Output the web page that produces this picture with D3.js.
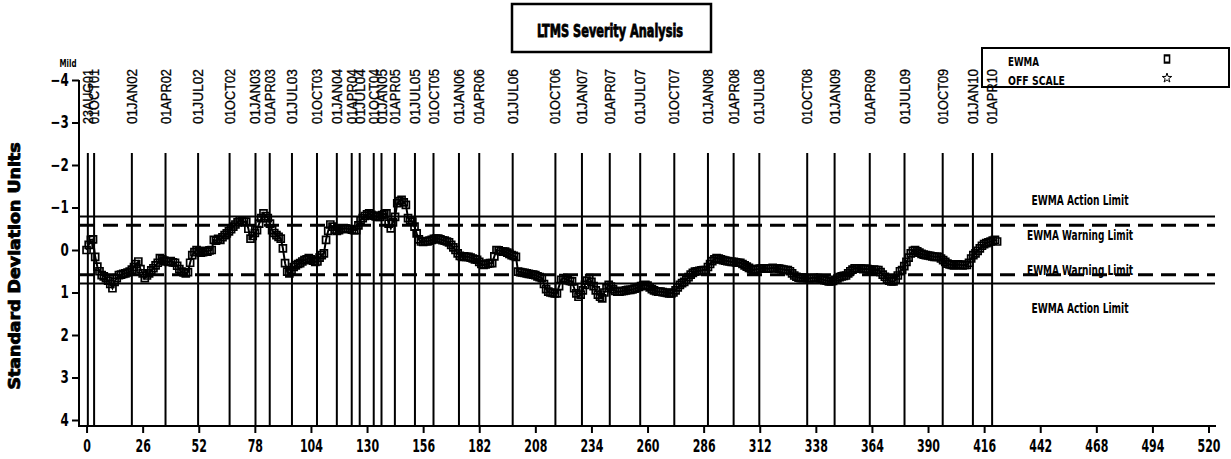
<!DOCTYPE html>
<html>
<head>
<meta charset="utf-8">
<script src="https://cdn.jsdelivr.net/npm/d3@7"></script>
<style>
  body { margin: 0; background: #fff; }
  svg { display: block; }
  .narrow { font-family: "DejaVu Sans Condensed", "Liberation Sans Narrow", sans-serif; font-weight: bold; }
  .plain { font-family: "Liberation Sans", Arial, sans-serif; }
</style>
</head>
<body>
<div id="chart"></div>
<script>
// date marks drawn as vertical reference lines (position = test sequence number)
var dateLabels = ["23AUG01","01OCT01","01JAN02","01APR02","01JUL02","01OCT02","01JAN03","01APR03",
  "01JUL03","01OCT03","01JAN04","01APR04","01JUL04","01OCT04","01JAN05","01APR05","01JUL05",
  "01OCT05","01JAN06","01APR06","01JUL06","01OCT06","01JAN07","01APR07","01JUL07","01OCT07",
  "01JAN08","01APR08","01JUL08","01OCT08","01JAN09","01APR09","01JUL09","01OCT09","01JAN10","01APR10"]
var datePos = [0.6, 3.5, 21.0, 36.6, 51.7, 66.3, 78.3, 84.9, 95.2, 106.8, 116.0, 122.9, 126.6, 133.1,
  136.7, 142.9, 152.2, 160.8, 172.6, 182.0, 197.5, 217.3, 229.6, 242.5, 256.6, 272.4, 288.0, 299.9,
  311.8, 334.0, 346.7, 363.0, 379.1, 396.8, 410.8, 419.7]

// EWMA value for each test, in standard deviation units
var ewma = [
  0.00,-0.12,-0.24,-0.25,0.16,0.39,0.50,0.59,0.62,0.66,
  0.72,0.80,0.90,0.75,0.66,0.59,0.58,0.56,0.55,0.53,
  0.51,0.46,0.40,0.33,0.27,0.45,0.55,0.66,0.60,0.55,
  0.48,0.43,0.36,0.30,0.19,0.22,0.25,0.27,0.28,0.26,
  0.29,0.30,0.37,0.45,0.51,0.53,0.55,0.52,0.30,0.12,
  0.05,0.00,0.03,0.06,0.05,0.02,0.04,0.01,0.00,-0.24,
  -0.22,-0.26,-0.24,-0.30,-0.35,-0.39,-0.44,-0.49,-0.55,-0.60,
  -0.65,-0.70,-0.68,-0.66,-0.67,-0.50,-0.27,-0.33,-0.40,-0.47,
  -0.62,-0.75,-0.86,-0.80,-0.75,-0.62,-0.47,-0.40,-0.35,-0.31,
  -0.27,-0.04,0.31,0.51,0.55,0.48,0.40,0.36,0.33,0.31,
  0.27,0.24,0.22,0.19,0.22,0.25,0.28,0.27,0.18,0.12,
  0.08,-0.24,-0.45,-0.60,-0.55,-0.48,-0.45,-0.47,-0.49,-0.50,
  -0.51,-0.50,-0.49,-0.48,-0.47,-0.47,-0.58,-0.70,-0.75,-0.80,
  -0.84,-0.86,-0.83,-0.81,-0.79,-0.78,-0.78,-0.82,-0.84,-0.86,
  -0.62,-0.51,-0.65,-0.78,-1.10,-1.15,-1.18,-1.12,-1.06,-0.75,
  -0.70,-0.67,-0.55,-0.39,-0.25,-0.20,-0.19,-0.21,-0.20,-0.22,
  -0.24,-0.26,-0.27,-0.27,-0.25,-0.23,-0.22,-0.20,-0.18,-0.12,
  -0.06,0.00,0.08,0.14,0.16,0.15,0.16,0.16,0.18,0.20,
  0.22,0.23,0.28,0.33,0.35,0.34,0.32,0.31,0.31,0.15,
  0.00,0.01,0.03,0.04,0.04,0.06,0.09,0.12,0.14,0.16,
  0.51,0.52,0.53,0.54,0.55,0.56,0.57,0.58,0.59,0.62,
  0.64,0.66,0.80,0.92,0.98,1.00,1.01,1.02,1.02,0.85,
  0.70,0.66,0.68,0.71,0.73,0.74,0.90,1.02,1.10,1.05,
  0.95,0.82,0.72,0.66,0.75,0.85,0.95,1.05,1.10,1.14,
  1.00,0.90,0.82,0.86,0.92,0.96,0.98,0.98,0.97,0.96,
  0.95,0.94,0.94,0.93,0.91,0.89,0.87,0.85,0.83,0.82,
  0.84,0.88,0.92,0.95,0.97,0.98,0.98,0.99,1.00,1.01,
  1.02,1.02,1.00,0.95,0.88,0.82,0.78,0.75,0.70,0.64,
  0.58,0.54,0.51,0.50,0.49,0.48,0.47,0.47,0.40,0.33,
  0.26,0.22,0.19,0.20,0.22,0.24,0.25,0.26,0.27,0.28,
  0.28,0.29,0.30,0.30,0.33,0.36,0.39,0.42,0.45,0.47,
  0.46,0.45,0.44,0.43,0.43,0.43,0.44,0.43,0.42,0.43,
  0.43,0.44,0.45,0.46,0.47,0.47,0.50,0.55,0.60,0.63,
  0.65,0.66,0.66,0.65,0.66,0.67,0.66,0.65,0.66,0.66,
  0.67,0.69,0.71,0.72,0.74,0.74,0.73,0.70,0.67,0.64,
  0.62,0.61,0.60,0.55,0.50,0.46,0.43,0.43,0.43,0.44,
  0.45,0.44,0.45,0.46,0.47,0.46,0.47,0.47,0.52,0.58,
  0.63,0.68,0.72,0.74,0.74,0.70,0.60,0.50,0.47,0.38,
  0.28,0.18,0.08,0.02,0.00,0.03,0.06,0.09,0.11,0.12,
  0.13,0.14,0.15,0.16,0.16,0.16,0.20,0.24,0.28,0.32,
  0.34,0.35,0.36,0.35,0.34,0.35,0.36,0.35,0.35,0.30,
  0.20,0.12,0.08,0.02,-0.04,-0.10,-0.14,-0.16,-0.18,-0.20,
  -0.22,-0.24,-0.20]

var yTicks = [-4, -3, -2, -1, 0, 1, 2, 3, 4]
var xTicks = [0, 26, 52, 78, 104, 130, 156, 182, 208, 234, 260, 286, 312, 338, 364, 390, 416, 442, 468, 494, 520]

// control limits
var limitNames = ["EWMA Action Limit", "EWMA Warning Limit", "EWMA Warning Limit", "EWMA Action Limit"]
var limitValues = [-0.79, -0.58, 0.58, 0.79]
var limitDashed = [false, true, true, false]

var legendNames = ["EWMA", "OFF SCALE"]

var width = 1231,
    height = 459

var svg = d3.select("#chart")
  .append("svg")
    .attr("width", width)
    .attr("height", height)

var x = d3.scaleLinear().domain([-3.5, 523]).range([79, 1215])
var y = d3.scaleLinear().domain([-4, 4]).range([80, 420])
var axisY = 426

// squeezed text, the SAS fonts are much narrower than anything installed
function narrow(g, tx, ty, size, len, str, anchor) {
  return g.append("text")
    .attr("class", "narrow")
    .attr("x", tx).attr("y", ty)
    .attr("text-anchor", anchor || "middle")
    .attr("textLength", len)
    .attr("lengthAdjust", "spacingAndGlyphs")
    .style("font-size", size + "px")
    .text(str)
}

// title box
svg.append("rect")
  .attr("x", 512).attr("y", 4).attr("width", 199).attr("height", 48)
  .attr("fill", "none").attr("stroke", "black").attr("stroke-width", 2.5)
narrow(svg, 610, 37, 17, 146, "LTMS Severity Analysis")
  .attr("stroke", "black").attr("stroke-width", 0.8)

// vertical date lines
svg.selectAll(".dline")
  .data(datePos)
  .enter()
  .append("line")
    .attr("x1", function(d) { return x(d) })
    .attr("x2", function(d) { return x(d) })
    .attr("y1", 153)
    .attr("y2", axisY)
    .attr("stroke", "black")
    .attr("stroke-width", 2)

svg.selectAll(".dlabel")
  .data(datePos)
  .enter()
  .append("text")
    .attr("class", "plain")
    .attr("transform", function(d) { return "translate(" + (x(d) + 5) + ",124) rotate(-90)" })
    .attr("textLength", 55)
    .attr("lengthAdjust", "spacingAndGlyphs")
    .attr("stroke", "black")
    .attr("stroke-width", 0.3)
    .style("font-size", "14px")
    .text(function(d, i) { return dateLabels[i] })

// limit lines
svg.selectAll(".limit")
  .data(limitValues)
  .enter()
  .append("line")
    .attr("x1", 80)
    .attr("x2", 1215)
    .attr("y1", function(d) { return y(d) })
    .attr("y2", function(d) { return y(d) })
    .attr("stroke", "black")
    .attr("stroke-width", function(d, i) { return limitDashed[i] ? 3 : 2 })
    .attr("stroke-dasharray", function(d, i) { return limitDashed[i] ? "15,8" : null })

var limitLabelY = [205, 240, 275, 313]
limitNames.forEach(function(n, i) {
  narrow(svg, 1080, limitLabelY[i], 13.5, limitDashed[i] ? 106 : 97, n)
})

// axes
svg.append("line")
  .attr("x1", 79).attr("x2", 79).attr("y1", y(-4)).attr("y2", axisY)
  .attr("stroke", "black").attr("stroke-width", 2)
svg.append("line")
  .attr("x1", 78).attr("x2", 1216).attr("y1", axisY).attr("y2", axisY)
  .attr("stroke", "black").attr("stroke-width", 2)

var yMinor = d3.range(-4, 4.01, 0.2)
var gy = svg.append("g").attr("transform", "translate(79,0)")
gy.call(d3.axisLeft(y).tickValues(yMinor).tickSize(4).tickFormat(""))
gy.call(d3.axisLeft(y).tickValues(yTicks).tickSize(7).tickPadding(3).tickFormat(d3.format("d")))
gy.selectAll(".domain").remove()
gy.selectAll("line").attr("stroke-width", 2)
gy.selectAll("text")
  .attr("class", "narrow")
  .attr("transform", "scale(0.78,1)")
  .attr("x", -13)
  .style("font-size", "17px")

var xMinor = d3.range(0, 521, 6.5)
var gx = svg.append("g").attr("transform", "translate(0," + axisY + ")")
gx.call(d3.axisBottom(x).tickValues(xMinor).tickSize(4).tickFormat(""))
gx.call(d3.axisBottom(x).tickValues(xTicks).tickSize(7).tickPadding(7).tickFormat(d3.format("d")))
gx.selectAll(".domain").remove()
gx.selectAll("line").attr("stroke-width", 2)
gx.selectAll("text")
  .attr("class", "narrow")
  .attr("transform", "scale(0.72,1)")
  .style("font-size", "17px")

narrow(svg, 68, 67, 10, 17, "Mild")

svg.append("text")
  .attr("class", "narrow")
  .attr("transform", "translate(20,266) rotate(-90)")
  .attr("text-anchor", "middle")
  .attr("textLength", 247)
  .attr("lengthAdjust", "spacingAndGlyphs")
  .attr("stroke", "black")
  .attr("stroke-width", 0.8)
  .style("font-size", "15px")
  .text("Standard Deviation Units")

// EWMA series
var line = d3.line()
  .x(function(d, i) { return x(i) })
  .y(function(d) { return y(d) })

svg.append("path")
  .datum(ewma)
  .attr("d", line)
  .attr("fill", "none")
  .attr("stroke", "black")
  .attr("stroke-width", 2)

var square = d3.symbol().type(d3.symbolSquare).size(49)
svg.selectAll(".pt")
  .data(ewma)
  .enter()
  .append("path")
    .attr("d", square)
    .attr("transform", function(d, i) { return "translate(" + x(i) + "," + y(d) + ")" })
    .attr("fill", "none")
    .attr("stroke", "black")
    .attr("stroke-width", 1.7)

// legend
svg.append("rect")
  .attr("x", 982).attr("y", 48).attr("width", 247).attr("height", 39)
  .attr("fill", "none").attr("stroke", "black").attr("stroke-width", 2)
narrow(svg, 1008, 66, 13, 31, legendNames[0], "start")
narrow(svg, 1008, 85, 13, 57, legendNames[1], "start")
svg.append("path")
  .attr("d", d3.symbol().type(d3.symbolSquare).size(36)())
  .attr("transform", "translate(1167,59) scale(0.85,1.2)")
  .attr("fill", "none").attr("stroke", "black").attr("stroke-width", 1.8)
svg.append("path")
  .attr("d", d3.symbol().type(d3.symbolStar).size(28)())
  .attr("transform", "translate(1167,78)")
  .attr("fill", "none").attr("stroke", "black").attr("stroke-width", 1)
</script>
</body>
</html>
